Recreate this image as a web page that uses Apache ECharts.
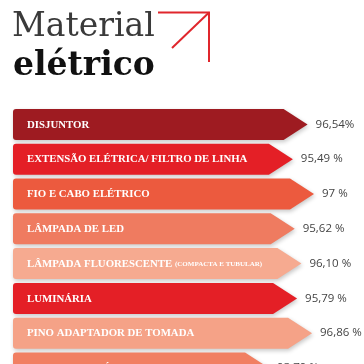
<!DOCTYPE html>
<html>
<head>
<meta charset="utf-8">
<script src="https://cdn.jsdelivr.net/npm/echarts@6/dist/echarts.min.js"></script>
<style>html,body{margin:0;padding:0;background:#fff}#c{width:364px;height:364px}</style>
</head>
<body>
<div id="c"></div>
<script>
const categories = [
  'DISJUNTOR',
  'EXTENSÃO ELÉTRICA/ FILTRO DE LINHA',
  'FIO E CABO ELÉTRICO',
  'LÂMPADA DE LED',
  'LÂMPADA FLUORESCENTE (COMPACTA E TUBULAR)',
  'LUMINÁRIA',
  'PINO ADAPTADOR DE TOMADA',
  'CHUVEIRO ELÉTRICO'
];
const values = [96.54, 95.49, 97, 95.62, 96.10, 95.79, 96.86, 93.79];
const valueLabels = ['96,54%', '95,49 %', '97 %', '95,62 %', '96,10 %', '95,79 %', '96,86 %', '93,79 %'];
const barColors = ['#9e1b21', '#e41f26', '#ec5a3e', '#ef7b60', '#f6aa90', '#e41f26', '#f5a287', '#f17f62'];

const X_MIN = 75.5, X_MAX = 99;

function catText(v) {
  const i = v.indexOf('(');
  if (i > 0) return '{a|' + v.slice(0, i) + '}{b|' + v.slice(i) + '}';
  return '{a|' + v + '}';
}

const chart = echarts.init(document.getElementById('c'), null, {renderer: 'canvas'});
chart.setOption({
  animation: false,
  backgroundColor: '#fff',
  graphic: [
    {type: 'text', left: 12, top: 11, style: {text: 'Material', font: 'normal 33px "DejaVu Serif"', fill: '#3a3a3a'}},
    {type: 'text', left: 13, top: 50, style: {text: 'elétrico', font: 'bold 33px "DejaVu Serif"', fill: '#111'}},
    {type: 'polyline', shape: {points: [[158, 12.5], [209, 12.5], [209, 62]]}, style: {stroke: '#e0262c', lineWidth: 2, fill: null}},
    {type: 'line', shape: {x1: 209, y1: 12.5, x2: 172, y2: 48}, style: {stroke: '#e0262c', lineWidth: 2}}
  ],
  grid: {left: 13, top: 107, right: 22, bottom: 0},
  xAxis: {type: 'value', min: X_MIN, max: X_MAX, show: false},
  yAxis: {type: 'value', min: -0.5, max: 6.885, inverse: true, show: false},
  series: [{
    type: 'custom',
    clip: false,
    data: values.map((v, i) => [v, i]),
    encode: {x: 0, y: 1},
    renderItem: function (params, api) {
      const v = api.value(0), idx = api.value(1);
      const s = api.coord([X_MIN, idx]);
      const e = api.coord([v, idx]);
      const h = api.size([0, 1])[1] * 0.89;
      const x0 = s[0], xe = e[0], yc = e[1];
      const y0 = yc - h / 2, y1 = yc + h / 2;
      const p = 24, r = 3;
      const d = 'M' + (x0 + r) + ' ' + y0 + ' L' + (xe - p) + ' ' + y0 + ' L' + xe + ' ' + yc +
        ' L' + (xe - p) + ' ' + y1 + ' L' + (x0 + r) + ' ' + y1 +
        ' Q' + x0 + ' ' + y1 + ' ' + x0 + ' ' + (y1 - r) + ' L' + x0 + ' ' + (y0 + r) +
        ' Q' + x0 + ' ' + y0 + ' ' + (x0 + r) + ' ' + y0 + ' Z';
      return {
        type: 'group',
        children: [
          {
            type: 'path',
            shape: {pathData: d, x: x0, y: y0, width: xe - x0, height: h},
            style: {fill: barColors[idx], shadowBlur: 4, shadowOffsetY: 2, shadowOffsetX: 1, shadowColor: 'rgba(0,0,0,0.22)'}
          },
          {
            type: 'text',
            x: x0 + 14, y: yc + 0.5,
            style: {
              text: catText(categories[idx]), verticalAlign: 'middle', align: 'left',
              rich: {
                a: {fontFamily: 'Liberation Serif', fontWeight: 'bold', fontSize: 10.8, fill: '#fff'},
                b: {fontFamily: 'Liberation Serif', fontWeight: 'bold', fontSize: 7, fill: '#fff'}
              }
            }
          },
          {
            type: 'text',
            x: xe + 8, y: yc,
            style: {text: valueLabels[idx], fill: '#444', font: '11.5px "Open Sans"', verticalAlign: 'middle', align: 'left'}
          }
        ]
      };
    }
  }]
});
</script>
</body>
</html>
